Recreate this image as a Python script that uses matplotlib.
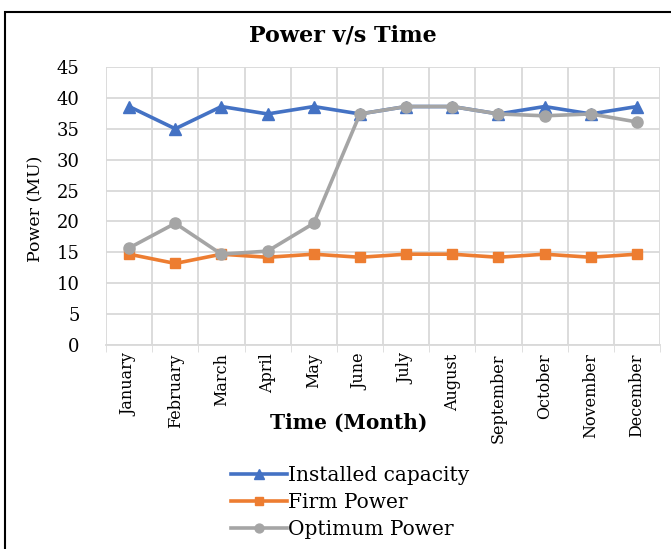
import matplotlib.pyplot as plt
from matplotlib.patches import Rectangle
import numpy as np

months = ['January', 'February', 'March', 'April', 'May', 'June', 'July',
          'August', 'September', 'October', 'November', 'December']
installed = [38.6, 35.0, 38.6, 37.4, 38.6, 37.4, 38.6, 38.6, 37.4, 38.6, 37.4, 38.6]
firm = [14.7, 13.2, 14.7, 14.2, 14.7, 14.2, 14.7, 14.7, 14.2, 14.7, 14.2, 14.7]
optimum = [15.7, 19.7, 14.7, 15.2, 19.7, 37.4, 38.6, 38.6, 37.4, 37.1, 37.4, 36.1]

plt.rcParams['font.family'] = ['DejaVu Serif']

fig = plt.figure(figsize=(6.71, 5.49), dpi=100)
ax = fig.add_axes([106/671, 1 - 345/549, 554/671, 278/549])

x = np.arange(len(months))
ax.plot(x, installed, color='#4472c4', lw=2.6, marker='^', ms=9, label='Installed capacity')
ax.plot(x, firm, color='#ed7d31', lw=2.6, marker='s', ms=7, label='Firm Power')
ax.plot(x, optimum, color='#a5a5a5', lw=2.6, marker='o', ms=8, label='Optimum Power')

ax.set_xlim(-0.5, 11.5)
ax.set_ylim(0, 45)
ax.set_yticks(range(0, 46, 5))
ax.set_xticks(x)
ax.set_xticklabels(months, rotation=90, fontsize=11.5)
ax.set_xticks(np.arange(-0.5, 12, 1), minor=True)
ax.tick_params(axis='x', which='major', length=0, pad=6)
ax.tick_params(axis='x', which='minor', length=5, color='#d9d9d9')
ax.tick_params(axis='y', length=0, labelsize=13, pad=19)
ax.grid(True, axis='y', color='#d9d9d9', lw=1.3)
ax.grid(True, axis='x', which='minor', color='#d9d9d9', lw=1.3)
for s in ['top', 'right', 'left']:
    ax.spines[s].set_visible(False)
ax.spines['bottom'].set_color('#d9d9d9')
ax.spines['bottom'].set_linewidth(1.3)
ax.set_axisbelow(True)

fig.text(36/671, 1 - 209/549, 'Power (MU)', ha='center', va='center',
         rotation=90, fontsize=12.5)
fig.text(349/671, 1 - 423/549, 'Time (Month)', ha='center', va='center',
         fontsize=14.5, fontweight='bold')
fig.text(343/671, 1 - 36/549, 'Power v/s Time', ha='center', va='center',
         fontsize=16, fontweight='bold')

fig.legend(loc='upper left', bbox_to_anchor=(231/671, 1 - 466/549), frameon=False,
           fontsize=14.5, handlelength=2.8, handletextpad=0.05, labelspacing=0.4,
           borderpad=0, borderaxespad=0, markerscale=0.8)

fig.patches.append(Rectangle((5/671, -0.05), 1.0, 1 - 12/549 + 0.05,
                             transform=fig.transFigure, fill=False,
                             edgecolor='black', lw=1.5))

fig.savefig('out.png', dpi=100)
